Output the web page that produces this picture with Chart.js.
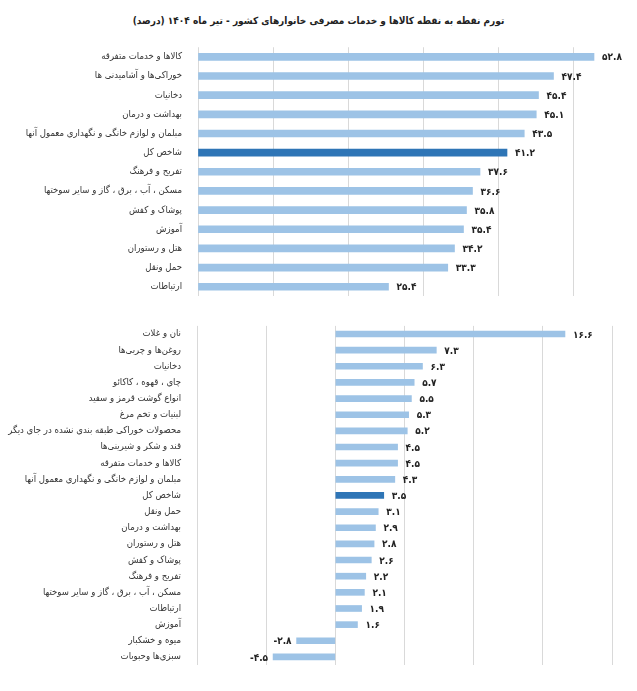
<!DOCTYPE html>
<html><head><meta charset="utf-8">
<script src="https://cdn.jsdelivr.net/npm/chart.js@4"></script>
<style>
html,body{margin:0;padding:0;background:#fff;width:637px;height:691px;overflow:hidden;}
#title{position:absolute;left:0;top:15px;width:637px;text-align:center;font:bold 10px "DejaVu Sans Condensed","DejaVu Sans";color:#222;direction:rtl;}
canvas{position:absolute;left:0;}
</style></head><body>
<div id="title">تورم نقطه به نقطه کالاها و خدمات مصرفی خانوارهای کشور - تیر ماه ۱۴۰۴ (درصد)</div>
<canvas id="c1" width="637" height="310" style="top:0;width:637px;height:310px"></canvas>
<canvas id="c2" width="637" height="381" style="top:310px;width:637px;height:381px"></canvas>
<script>
const topCategories = [
  'کالاها و خدمات متفرقه',
  'خوراکی‌ها و آشامیدنی ها',
  'دخانیات',
  'بهداشت و درمان',
  'مبلمان و لوازم خانگی و نگهداری معمول آنها',
  'شاخص کل',
  'تفریح و فرهنگ',
  'مسکن ، آب ، برق ، گاز و سایر سوختها',
  'پوشاک و کفش',
  'آموزش',
  'هتل و رستوران',
  'حمل ونقل',
  'ارتباطات'
];
const topValues = [52.8, 47.4, 45.4, 45.1, 43.5, 41.2, 37.6, 36.6, 35.8, 35.4, 34.2, 33.3, 25.4];

const bottomCategories = [
  'نان و غلات',
  'روغن‌ها و چربی‌ها',
  'دخانیات',
  'چای ، قهوه ، کاکائو',
  'انواع گوشت قرمز و سفید',
  'لبنیات و تخم مرغ',
  'محصولات خوراکی طبقه بندی نشده در جای دیگر',
  'قند و شکر و شیرینی‌ها',
  'کالاها و خدمات متفرقه',
  'مبلمان و لوازم خانگی و نگهداری معمول آنها',
  'شاخص کل',
  'حمل ونقل',
  'بهداشت و درمان',
  'هتل و رستوران',
  'پوشاک و کفش',
  'تفریح و فرهنگ',
  'مسکن ، آب ، برق ، گاز و سایر سوختها',
  'ارتباطات',
  'آموزش',
  'میوه و خشکبار',
  'سبزی‌ها وحبوبات'
];
const bottomValues = [16.6, 7.3, 6.3, 5.7, 5.5, 5.3, 5.2, 4.5, 4.5, 4.3, 3.5, 3.1, 2.9, 2.8, 2.6, 2.2, 2.1, 1.9, 1.6, -2.8, -4.5];

const highlightLabel = 'شاخص کل';
const LIGHT = '#9DC3E6';
const DARK = '#2E75B6';
const GRID = '#D9D9D9';
const FONT = '"DejaVu Sans Condensed", "DejaVu Sans"';

function toFa(v){
  const d = '۰۱۲۳۴۵۶۷۸۹';
  return v.toFixed(1).replace(/[0-9]/g, c => d[+c]);
}

const valueLabels = {
  id: 'valueLabels',
  afterDatasetsDraw(chart){
    const ctx = chart.ctx;
    const meta = chart.getDatasetMeta(0);
    const data = chart.data.datasets[0].data;
    ctx.save();
    ctx.font = 'bold 10px ' + FONT;
    ctx.fillStyle = '#222';
    ctx.textBaseline = 'middle';
    meta.data.forEach((bar, i) => {
      const v = data[i];
      const s = toFa(v);
      if (v >= 0) { ctx.textAlign = 'left'; ctx.fillText(s, bar.x + 8, bar.y + 1); }
      else { ctx.textAlign = 'right'; ctx.fillText(s, bar.x - 5, bar.y + 1); }
    });
    ctx.restore();
  }
};

function makeChart(id, cats, vals, opts){
  return new Chart(document.getElementById(id), {
    type: 'bar',
    data: {
      labels: cats,
      datasets: [{
        data: vals,
        backgroundColor: cats.map(c => c === highlightLabel ? DARK : LIGHT),
        barThickness: opts.barThickness,
        borderWidth: 0
      }]
    },
    options: {
      indexAxis: 'y',
      responsive: false,
      animation: false,
      devicePixelRatio: 1,
      layout: { padding: opts.padding },
      plugins: { legend: { display: false }, tooltip: { enabled: false }, title: { display: false } },
      scales: {
        x: {
          min: opts.min, max: opts.max,
          ticks: { display: false, stepSize: opts.step },
          grid: {
            drawTicks: false,
            lineWidth: 1,
            color: c => (c.tick && Math.abs(c.tick.value % opts.gridEvery) < 1e-9) ? GRID : 'rgba(0,0,0,0)'
          },
          border: { display: false },
          afterFit(s){ s.height = 0; }
        },
        y: {
          grid: { display: false },
          border: { display: false },
          ticks: { padding: 8, color: '#333', autoSkip: false, font: { family: FONT, size: 9.5 } },
          afterFit(s){ s.width = opts.yWidth; }
        }
      }
    },
    plugins: [valueLabels]
  });
}

makeChart('c1', topCategories, topValues, {
  min: 0, max: 58, step: 10, gridEvery: 10, yWidth: 198, barThickness: 7,
  padding: { top: 47.25, bottom: 9.25, left: 0, right: 4 }
});
makeChart('c2', bottomCategories, bottomValues, {
  min: -10, max: 20, step: 5, gridEvery: 5, yWidth: 197, barThickness: 6,
  padding: { top: 15.9, bottom: 26, left: 0, right: 25 }
});
</script>
</body></html>
